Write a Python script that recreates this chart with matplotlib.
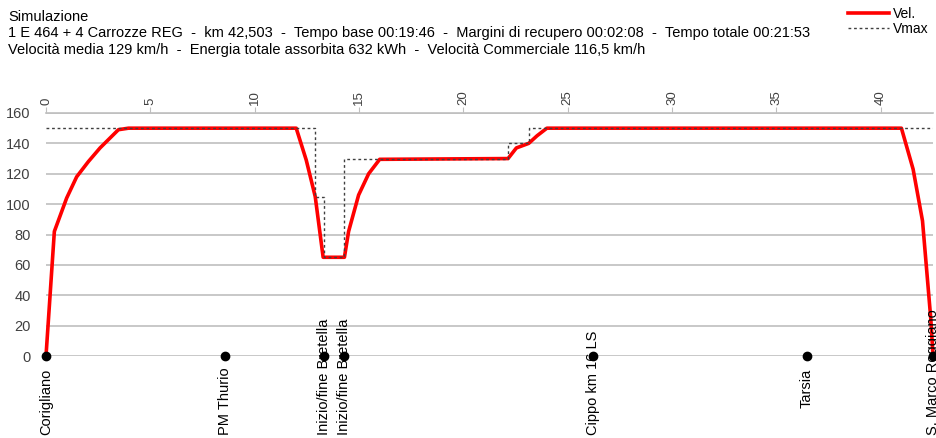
import matplotlib.pyplot as plt

plt.rcParams['font.family'] = ['Liberation Sans', 'DejaVu Sans']

KM_TOTAL = 42.503

# velocity profile (km, km/h)
vel_km = [0, 0.40, 0.99, 1.47, 2.03, 2.59, 3.47, 3.95, 11.99, 12.47, 12.9, 13.28,
          14.3, 14.5, 14.98, 15.46, 15.99, 22.14, 22.54, 23.13, 23.53, 24.0,
          40.99, 41.55, 42.0, 42.4, 42.503]
vel_val = [0, 82, 104, 118, 128, 137, 149, 150, 150, 129, 105, 65,
           65, 82, 106, 120, 129.5, 130, 137, 140, 145, 150,
           150, 123, 89, 24, 0]

# speed limit steps
vmax_km = [0, 12.9, 13.3, 14.28, 22.14, 23.13, 42.503]
vmax_val = [150, 105, 65, 130, 140, 150, 150]

# stations
stations = ['Corigliano', 'PM Thurio', 'Inizio/fine Bretella', 'Inizio/fine Bretella',
            'Cippo km 16 LS', 'Tarsia', 'S. Marco Roggiano']
station_km = [0, 8.6, 13.3, 14.28, 26.2, 36.45, 42.503]

header = ['Simulazione',
          '1 E 464 + 4 Carrozze REG  -  km 42,503  -  Tempo base 00:19:46  -  '
          'Margini di recupero 00:02:08  -  Tempo totale 00:21:53',
          'Velocità media 129 km/h  -  Energia totale assorbita 632 kWh  -  '
          'Velocità Commerciale 116,5 km/h']

fig = plt.figure(figsize=(9.36, 4.38), dpi=100)
ax = fig.add_axes([46 / 936, 1 - 356 / 438, 887 / 936, 243 / 438])

ax.plot(vel_km, vel_val, color='#ff0000', lw=2.6, label='Vel.', zorder=3, clip_on=False)
ax.step(vmax_km, vmax_val, where='post', color='#404040', lw=1.0,
        linestyle=(0, (2, 2)), label='Vmax', zorder=4)
ax.plot(station_km, [0] * len(station_km), 'o', color='black', ms=6,
        zorder=5, clip_on=False)

ax.set_xlim(0, KM_TOTAL)
ax.set_ylim(0, 160)
ax.set_yticks(range(0, 161, 20))
ax.yaxis.grid(True, color='#bfbfbf', lw=1.2)
ax.set_axisbelow(True)
for s in ['left', 'right', 'bottom']:
    ax.spines[s].set_visible(False)
ax.spines['top'].set_color('#bfbfbf')
ax.spines['top'].set_linewidth(1.2)
ax.xaxis.tick_top()
ax.set_xticks(range(0, 41, 5))
ax.tick_params(axis='x', direction='out', length=4, color='#bfbfbf',
               labelrotation=90, labelsize=9.5, pad=2, labelcolor='#404040')
ax.tick_params(axis='y', length=0, labelsize=10.5, pad=11, labelcolor='#404040')

# station labels under the dots; long ones pushed up to end at the bottom edge
texts = []
for name, km in zip(stations, station_km):
    t = ax.annotate(name, (km, 0), xytext=(0, -9), textcoords='offset points',
                    rotation=90, ha='center', va='top', fontsize=10.5,
                    annotation_clip=False)
    texts.append(t)
fig.canvas.draw()
r = fig.canvas.get_renderer()
for t in texts:
    bb = t.get_window_extent(r)
    if bb.y0 < 3:
        # 3 px above the figure bottom, in points below the dot
        t.set_va('bottom')
        t.xyann = (0, -(438 - 3 - 356) * 0.72)

for i, line in enumerate(header):
    fig.text(8 / 936, 1 - (17 + i * 16.5) / 438, line, fontsize=10.5, va='center')

fig.legend(loc='upper right', bbox_to_anchor=(1.0, 1.0), frameon=False, fontsize=10,
           handlelength=3.0, handletextpad=0.3, labelspacing=0.05, borderaxespad=0.1)

fig.savefig('out.png', dpi=100)
